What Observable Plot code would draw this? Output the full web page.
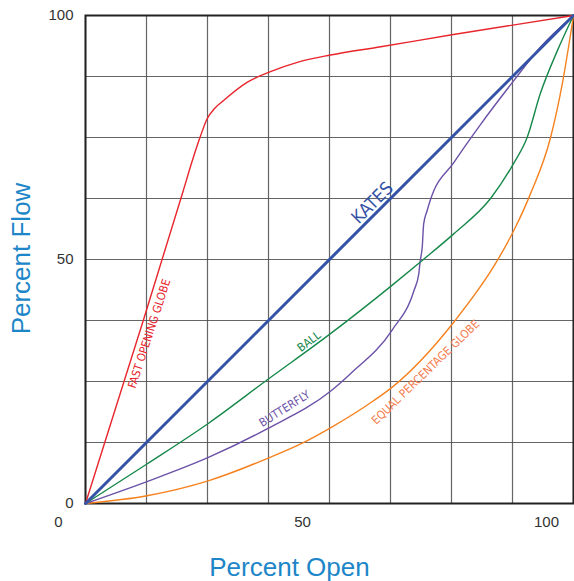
<!DOCTYPE html>
<html>
<head>
<meta charset="utf-8">
<script src="https://cdn.jsdelivr.net/npm/d3@7"></script>
<script src="https://cdn.jsdelivr.net/npm/@observablehq/plot@0.6"></script>
<style>
  html, body { margin: 0; padding: 0; background: #fff; }
</style>
</head>
<body>
<div id="chart"></div>
<script>
// Percent open (x) / percent flow (y) for each valve type
const fastX = [0, 12, 20, 21.9, 23.6, 24.9, 26.5, 28.3, 33.1, 37.9, 43.4, 50.2, 60.5, 75.4, 100];
const fastY = [0, 38, 64, 70.3, 75.4, 78.8, 81, 82.6, 86.3, 88.5, 90.4, 91.9, 93.6, 96.1, 100];

const katesX = [0, 100];
const katesY = [0, 100];

const ballX = [0, 12.6, 25.3, 37.2, 50.2, 62.8, 69, 75.5, 83, 87.8, 90.5, 93.2, 96.7, 100];
const ballY = [0, 8.1, 16.5, 25.3, 34.8, 44.7, 49.8, 55.3, 62.5, 69.8, 75, 84, 92.8, 100];

const butterflyX = [0, 12.6, 25.3, 37.2, 50.2, 54.3, 62.8, 67.3, 68.3, 68.6, 69, 69.3, 70, 70.7, 75.5, 80.9, 87.8, 93.2, 100];
const butterflyY = [0, 4.5, 9.5, 15.3, 23, 26.6, 35.5, 43.6, 47.1, 49.8, 52.5, 57.3, 60, 62.3, 69.9, 77.6, 86.7, 93.5, 100];

const equalX = [0, 12.6, 25.3, 37.2, 44.1, 50.2, 59.1, 62.8, 75.5, 84.4, 88.1, 91.2, 95.3, 97.7, 100];
const equalY = [0, 1.6, 4.7, 9.2, 12.2, 15.5, 21.1, 23.8, 37.2, 49.8, 56.6, 63.5, 75, 86, 100];

const tickValues = [0, 50, 100];
const gridValues = [0, 12.5, 25, 37.5, 50, 62.5, 75, 87.5, 100];

// Curve labels
const labelText = ["FAST OPENING GLOBE", "KATES", "BALL", "BUTTERFLY", "EQUAL PERCENTAGE GLOBE"];
const labelX = [13.1, 58.8, 45.8, 40.8, 69.7];
const labelY = [34.8, 61.6, 33.2, 19.4, 26.9];

const pts = (xs, ys) => xs.map((x, i) => ({x, y: ys[i]}));

const colors = {
  fast: "#e8252c",
  kates: "#3553a6",
  ball: "#16884a",
  butterfly: "#6b52a8",
  equal: "#f5821f"
};

const labels = labelText.map((t, i) => ({text: t, x: labelX[i], y: labelY[i]}));
const labelStyle = [
  {fill: colors.fast, rotate: -72, size: 11.5},
  {fill: colors.kates, rotate: -45, size: 18},
  {fill: colors.ball, rotate: -37, size: 11.5},
  {fill: colors.butterfly, rotate: -32, size: 11.5},
  {fill: "#f47c4c", rotate: -44, size: 11.5}
];

const narrow = "'Liberation Sans Narrow', 'DejaVu Sans Condensed', 'Liberation Sans', sans-serif";

const chart = Plot.plot({
  width: 574,
  height: 581,
  marginLeft: 85,
  marginTop: 15,
  marginRight: 1,
  marginBottom: 78,
  style: {fontFamily: "'Liberation Sans', Arial, sans-serif", background: "#fff"},
  x: {domain: [0, 100]},
  y: {domain: [0, 100]},
  marks: [
    Plot.gridX(gridValues, {stroke: "#4a4a4a", strokeOpacity: 0.85, strokeWidth: 1.2}),
    Plot.gridY(gridValues, {stroke: "#4a4a4a", strokeOpacity: 0.85, strokeWidth: 1.2}),
    Plot.frame({stroke: "#222", strokeWidth: 2}),
    Plot.axisY(tickValues, {tickSize: 0, tickPadding: 12, fontSize: 15, fill: "#333", label: null}),
    Plot.axisX(tickValues, {tickSize: 0, tickPadding: 13, fontSize: 15, fill: "#333", dx: -27, label: null}),
    Plot.line(pts(equalX, equalY), {x: "x", y: "y", stroke: colors.equal, strokeWidth: 1.4, curve: "monotone-x"}),
    Plot.line(pts(butterflyX, butterflyY), {x: "x", y: "y", stroke: colors.butterfly, strokeWidth: 1.4, curve: "monotone-x"}),
    Plot.line(pts(ballX, ballY), {x: "x", y: "y", stroke: colors.ball, strokeWidth: 1.4, curve: "monotone-x"}),
    Plot.line(pts(fastX, fastY), {x: "x", y: "y", stroke: colors.fast, strokeWidth: 1.4, curve: "monotone-x"}),
    Plot.line(pts(katesX, katesY), {x: "x", y: "y", stroke: colors.kates, strokeWidth: 3}),
    ...labels.map((d, i) => Plot.text([d], {
      x: "x", y: "y", text: "text",
      fill: labelStyle[i].fill, rotate: labelStyle[i].rotate,
      fontSize: labelStyle[i].size, fontFamily: narrow
    })),
    Plot.text(["Percent Open"], {frameAnchor: "bottom", textAnchor: "middle", dx: -40, dy: 72, fontSize: 26, fill: "#1d86c8"}),
    Plot.text(["Percent Flow"], {frameAnchor: "left", textAnchor: "middle", dx: -64, dy: -1, rotate: -90, fontSize: 26, fill: "#1d86c8"})
  ]
});

document.getElementById("chart").appendChild(chart);
</script>
</body>
</html>
